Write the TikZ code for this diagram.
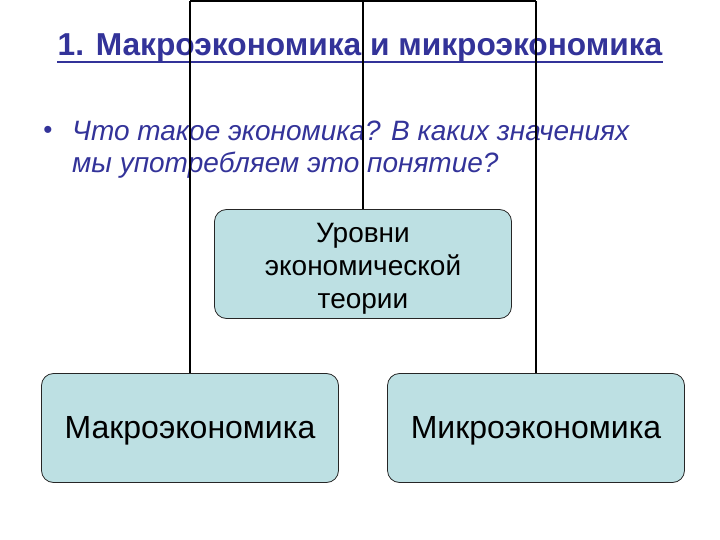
\documentclass[tikz,border=0pt]{standalone}
\usepackage{fontspec}
\setmainfont{Liberation Sans}
\usetikzlibrary{positioning}
\definecolor{titleblue}{RGB}{51,51,153}
\definecolor{boxfill}{RGB}{189,224,227}
\tikzset{
  box/.style={draw=black!85, fill=boxfill, rounded corners=12pt, line width=0.8pt,
    minimum width=297pt, minimum height=109pt, align=center, inner sep=0pt},
  conn/.style={black, line width=1.6pt}
}

\begin{document}
\begin{tikzpicture}[x=1pt,y=-1pt]
\useasboundingbox (0,0) rectangle (720,540);

% title and question
\node[anchor=base, text=titleblue, font=\fontsize{31.7}{36}\selectfont\bfseries, inner sep=0pt] (title) at (360,56)
  {1. Макроэкономика и микроэкономика};
\draw[titleblue, line width=2.2pt] (title.west |- 0,62) -- (title.east |- 0,62);
\node[anchor=base west, text=titleblue, font=\fontsize{28}{32}\selectfont\itshape, align=left, inner sep=0pt] (ques) at (72,173)
  {Что такое экономика? В каких значениях\\мы употребляем это понятие?};
\node[text=titleblue, font=\fontsize{26}{26}\selectfont] (dot) at (48,132) {\textbullet};

% boxes
\node[box, font=\fontsize{28}{33}\selectfont] (levels) at (363,264) {\rule{0pt}{28pt}Уровни\\экономической\\теории};
\node[box, font=\fontsize{32}{36}\selectfont] (macro) at (190,428) {\rule{0pt}{27pt}Макроэкономика};
\node[box, font=\fontsize{32}{36}\selectfont] (micro) at (536,428) {\rule{0pt}{27pt}Микроэкономика};

% connectors
\coordinate (tl) at (macro.north |- 0,0.8);
\coordinate (tm) at (levels.north |- 0,0.8);
\coordinate (tr) at (micro.north |- 0,0.8);
\draw[conn] (levels.north) -- (tm);
\draw[conn] (tl) -- (tr);
\draw[conn] (tl) -- (macro.north);
\draw[conn] (tr) -- (micro.north);

\end{tikzpicture}
\end{document}
